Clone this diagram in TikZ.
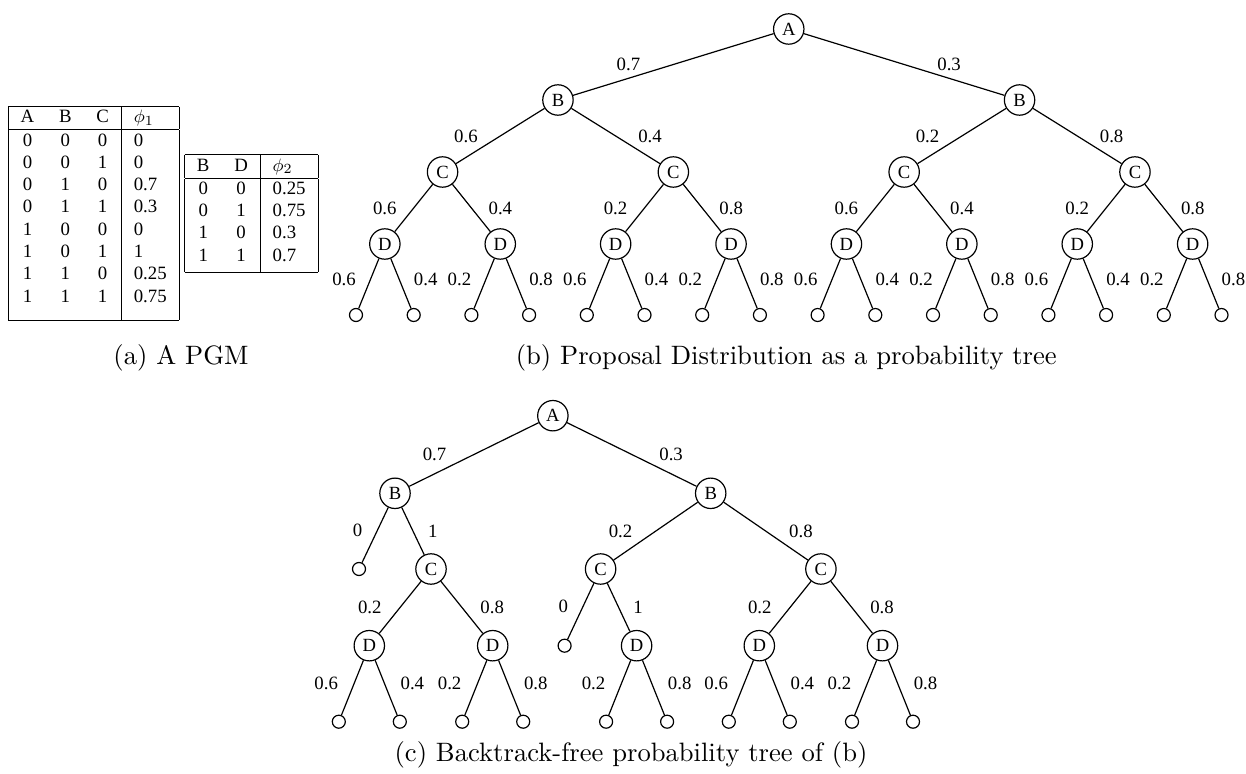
\documentclass[tikz,border=0pt]{standalone}
\usepackage{fontspec}
\newfontfamily\timesfont{Liberation Serif}
\usetikzlibrary{positioning}
\setlength{\tabcolsep}{6.2pt}
\setlength{\arrayrulewidth}{0.5pt}
\newcommand{\subcap}[1]{\scalebox{1.33}{#1}}
\begin{document}
\begin{tikzpicture}[x=0.5pt,y=-0.5pt,semithick,
  var/.style={draw,circle,minimum size=15.2pt,inner sep=0pt,font=\timesfont\fontsize{9.3}{11}\selectfont},
  leafnode/.style={draw,circle,minimum size=6.5pt,inner sep=0pt},
  lab/.style={inner sep=0pt,font=\timesfont\fontsize{9.4}{11.15}\selectfont},
  llab/.style={lab,pos=0.42},
  captext/.style={inner sep=0pt,font=\fontsize{10}{12}\selectfont}]
\useasboundingbox (0,0) rectangle (1246,774);
\node[lab] (phi1) at (93.7,213.5) {\begin{tabular}{|ccc|l|}\hline
A & B & C & $\phi_1$\\\hline
0 & 0 & 0 & 0\\ 0 & 0 & 1 & 0\\ 0 & 1 & 0 & 0.7\\ 0 & 1 & 1 & 0.3\\
1 & 0 & 0 & 0\\ 1 & 0 & 1 & 1\\ 1 & 1 & 0 & 0.25\\ 1 & 1 & 1 & 0.75\\[5.5pt]\hline
\end{tabular}};
\node[lab] (phi2) at (251.3,213.7) {\begin{tabular}{|cc|l|}\hline
B & D & $\phi_2$\\\hline
0 & 0 & 0.25\\ 0 & 1 & 0.75\\ 1 & 0 & 0.3\\ 1 & 1 & 0.7\\[2pt]\hline
\end{tabular}};
\node[captext] (capa) at (181,357.5) {\subcap{(a) A PGM}};
\node[var] (a) at (788.75,29) {A};
\node[var] (b0) at (557.95,100) {B}; \node[var] (b1) at (1019.55,100) {B};
\node[var] (c0) at (442.55,172) {C}; \node[var] (c1) at (673.35,172) {C};
\node[var] (c2) at (904.15,172) {C}; \node[var] (c3) at (1134.95,172) {C};
\node[var] (d0) at (384.85,244) {D}; \node[var] (d1) at (500.25,244) {D};
\node[var] (d2) at (615.65,244) {D}; \node[var] (d3) at (731.05,244) {D};
\node[var] (d4) at (846.45,244) {D}; \node[var] (d5) at (961.85,244) {D};
\node[var] (d6) at (1077.25,244) {D}; \node[var] (d7) at (1192.65,244) {D};
\node[leafnode] (l0) at (356,315) {}; \node[leafnode] (l1) at (413.7,315) {};
\node[leafnode] (l2) at (471.4,315) {}; \node[leafnode] (l3) at (529.1,315) {};
\node[leafnode] (l4) at (586.8,315) {}; \node[leafnode] (l5) at (644.5,315) {};
\node[leafnode] (l6) at (702.2,315) {}; \node[leafnode] (l7) at (759.9,315) {};
\node[leafnode] (l8) at (817.6,315) {}; \node[leafnode] (l9) at (875.3,315) {};
\node[leafnode] (l10) at (933,315) {}; \node[leafnode] (l11) at (990.7,315) {};
\node[leafnode] (l12) at (1048.4,315) {}; \node[leafnode] (l13) at (1106.1,315) {};
\node[leafnode] (l14) at (1163.8,315) {}; \node[leafnode] (l15) at (1221.5,315) {};
\draw (a) -- node[lab,left=16.3pt] {0.7} (b0); \draw (a) -- node[lab,right=16.3pt] {0.3} (b1);
\draw (b0) -- node[lab,left=11pt] {0.6} (c0); \draw (b0) -- node[lab,right=11pt] {0.4} (c1);
\draw (b1) -- node[lab,left=11pt] {0.2} (c2); \draw (b1) -- node[lab,right=11pt] {0.8} (c3);
\draw (c0) -- node[lab,left=8.3pt] {0.6} (d0); \draw (c0) -- node[lab,right=8.3pt] {0.4} (d1);
\draw (c1) -- node[lab,left=8.3pt] {0.2} (d2); \draw (c1) -- node[lab,right=8.3pt] {0.8} (d3);
\draw (c2) -- node[lab,left=8.3pt] {0.6} (d4); \draw (c2) -- node[lab,right=8.3pt] {0.4} (d5);
\draw (c3) -- node[lab,left=8.3pt] {0.2} (d6); \draw (c3) -- node[lab,right=8.3pt] {0.8} (d7);
\draw (d0) -- node[llab,left=7pt] {0.6} (l0); \draw (d0) -- node[llab,right=7pt] {0.4} (l1);
\draw (d1) -- node[llab,left=7pt] {0.2} (l2); \draw (d1) -- node[llab,right=7pt] {0.8} (l3);
\draw (d2) -- node[llab,left=7pt] {0.6} (l4); \draw (d2) -- node[llab,right=7pt] {0.4} (l5);
\draw (d3) -- node[llab,left=7pt] {0.2} (l6); \draw (d3) -- node[llab,right=7pt] {0.8} (l7);
\draw (d4) -- node[llab,left=7pt] {0.6} (l8); \draw (d4) -- node[llab,right=7pt] {0.4} (l9);
\draw (d5) -- node[llab,left=7pt] {0.2} (l10); \draw (d5) -- node[llab,right=7pt] {0.8} (l11);
\draw (d6) -- node[llab,left=7pt] {0.6} (l12); \draw (d6) -- node[llab,right=7pt] {0.4} (l13);
\draw (d7) -- node[llab,left=7pt] {0.2} (l14); \draw (d7) -- node[llab,right=7pt] {0.8} (l15);
\node[captext] (capb) at (786.3,357.5) {\subcap{(b) Proposal Distribution as a probability tree}};
\node[var] (fa) at (552.85,415.7) {A};
\node[var] (fb0) at (395,493.3) {B}; \node[var] (fb1) at (710.7,493.3) {B};
\node[leafnode] (fl0) at (359,569) {}; \node[var] (fc0) at (431,569) {C};
\node[var] (fc1) at (600.6,569) {C}; \node[var] (fc2) at (820.9,569) {C};
\node[var] (fd0) at (369.3,645.7) {D}; \node[var] (fd1) at (492.7,645.7) {D};
\node[leafnode] (fl1) at (564.6,645.7) {}; \node[var] (fd2) at (636.6,645.7) {D};
\node[var] (fd3) at (759.3,645.7) {D}; \node[var] (fd4) at (882.5,645.7) {D};
\node[leafnode] (fl2) at (338.8,721.7) {}; \node[leafnode] (fl3) at (399.8,721.7) {};
\node[leafnode] (fl4) at (462.2,721.7) {}; \node[leafnode] (fl5) at (523.2,721.7) {};
\node[leafnode] (fl6) at (606.1,721.7) {}; \node[leafnode] (fl7) at (667.1,721.7) {};
\node[leafnode] (fl8) at (728.8,721.7) {}; \node[leafnode] (fl9) at (789.8,721.7) {};
\node[leafnode] (fl10) at (852,721.7) {}; \node[leafnode] (fl11) at (913,721.7) {};
\draw (fa) -- node[lab,left=13.5pt] {0.7} (fb0); \draw (fa) -- node[lab,right=13.5pt] {0.3} (fb1);
\draw (fb0) -- node[llab,left=7.2pt] {0} (fl0); \draw (fb0) -- node[lab,right=7.2pt] {1} (fc0);
\draw (fb1) -- node[lab,left=11.4pt] {0.2} (fc1); \draw (fb1) -- node[lab,right=11.4pt] {0.8} (fc2);
\draw (fc0) -- node[lab,left=9pt] {0.2} (fd0); \draw (fc0) -- node[lab,right=9pt] {0.8} (fd1);
\draw (fc1) -- node[llab,left=7.1pt] {0} (fl1); \draw (fc1) -- node[lab,right=7.1pt] {1} (fd2);
\draw (fc2) -- node[lab,left=9pt] {0.2} (fd3); \draw (fc2) -- node[lab,right=9pt] {0.8} (fd4);
\draw (fd0) -- node[llab,left=7.8pt] {0.6} (fl2); \draw (fd0) -- node[llab,right=7.8pt] {0.4} (fl3);
\draw (fd1) -- node[llab,left=7.8pt] {0.2} (fl4); \draw (fd1) -- node[llab,right=7.8pt] {0.8} (fl5);
\draw (fd2) -- node[llab,left=7.8pt] {0.2} (fl6); \draw (fd2) -- node[llab,right=7.8pt] {0.8} (fl7);
\draw (fd3) -- node[llab,left=7.8pt] {0.6} (fl8); \draw (fd3) -- node[llab,right=7.8pt] {0.4} (fl9);
\draw (fd4) -- node[llab,left=7.8pt] {0.2} (fl10); \draw (fd4) -- node[llab,right=7.8pt] {0.8} (fl11);
\node[captext] (capc) at (631,754.5) {\subcap{(c) Backtrack-free probability tree of (b)}};
\end{tikzpicture}
\end{document}
